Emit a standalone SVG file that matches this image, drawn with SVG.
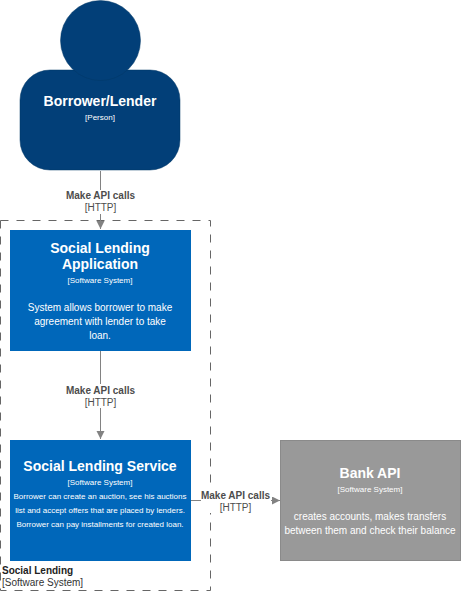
<svg xmlns="http://www.w3.org/2000/svg" width="462" height="592" viewBox="0 0 462 592">
<style>
text{font-family:"Liberation Sans",Arial,sans-serif;text-anchor:middle}
.t{font-size:14px;font-weight:bold;fill:#fff}
.s{font-size:8px;fill:#fff}
.d{font-size:10px;fill:#fff}
.l{font-size:10px;font-weight:bold;fill:#4d4d4d}
.h{font-size:10px;fill:#4d4d4d}
.c{fill:none;stroke:#828282;stroke-width:1}
.b{fill:#0067ba}
.m{font-size:8px;fill:#fff}
</style>
<defs><marker id="arrow" markerWidth="9" markerHeight="9" refX="8" refY="4" orient="auto" markerUnits="userSpaceOnUse"><path d="M0,0L8,4L0,8Z" fill="#828282"/></marker></defs>
<rect width="462" height="592" fill="#fff"/>
<g id="boundary">
<rect x="0.5" y="220.5" width="210" height="370" fill="none" stroke="#666" stroke-dasharray="8 8"/>
</g>
<g id="person">
<rect x="20" y="70" width="160" height="100" rx="30" ry="30" fill="#023f78" stroke="#033866" stroke-width="0.5"/>
<circle cx="100.5" cy="40.5" r="40" fill="#023f78" stroke="#033866" stroke-width="0.5"/>
<text class="t" x="100" y="106">Borrower/Lender</text>
<text class="s" x="100" y="120">[Person]</text>
</g>
<g id="app">
<rect class="b" x="10" y="230" width="181" height="121"/>
<text class="t" x="100" y="253">Social Lending</text>
<text class="t" x="100" y="269">Application</text>
<text class="s" x="100" y="283">[Software System]</text>
<text class="d" x="100" y="311">System allows borrower to make</text>
<text class="d" x="100" y="325">agreement with lender to take</text>
<text class="d" x="100" y="339">loan.</text>
</g>
<g id="service">
<rect class="b" x="10" y="440" width="181" height="121"/>
<text class="t" x="100" y="471">Social Lending Service</text>
<text class="s" x="100" y="485">[Software System]</text>
<text class="m" x="100" y="499">Borrower can create an auction, see his auctions</text>
<text class="m" x="100" y="513">list and accept offers that are placed by lenders.</text>
<text class="m" x="100" y="527">Borrower can pay installments for created loan.</text>
</g>
<g id="bank">
<rect x="280.5" y="440.5" width="180" height="120" fill="#999" stroke="#8a8a8a"/>
<text class="t" x="370" y="478">Bank API</text>
<text class="s" x="370" y="492">[Software System]</text>
<text class="d" x="370" y="520">creates accounts, makes transfers</text>
<text class="d" x="370" y="534">between them and check their balance</text>
</g>
<g id="connectors">
<path class="c" d="M100.500,171V229" marker-end="url(#arrow)"/>
<path class="c" d="M100.500,351V439" marker-end="url(#arrow)"/>
<path class="c" d="M191,500.500H280" marker-end="url(#arrow)"/>
<rect x="64" y="190" width="74" height="24" fill="#fff"/>
<text class="l" x="100.500" y="199">Make API calls</text>
<text class="h" x="100.500" y="211">[HTTP]</text>
<rect x="64" y="384" width="74" height="24" fill="#fff"/>
<text class="l" x="100.500" y="394">Make API calls</text>
<text class="h" x="100.500" y="406">[HTTP]</text>
<rect x="201" y="489" width="70" height="24" fill="#fff"/>
<text class="l" x="235.500" y="499">Make API calls</text>
<text class="h" x="235.500" y="511">[HTTP]</text>
</g>
<g id="boundary-label">
<text x="2" y="574" style="text-anchor:start;font-size:10px;font-weight:bold;fill:#222">Social Lending</text>
<text x="2" y="586" style="text-anchor:start;font-size:10px;fill:#333">[Software System]</text>
</g>
</svg>
